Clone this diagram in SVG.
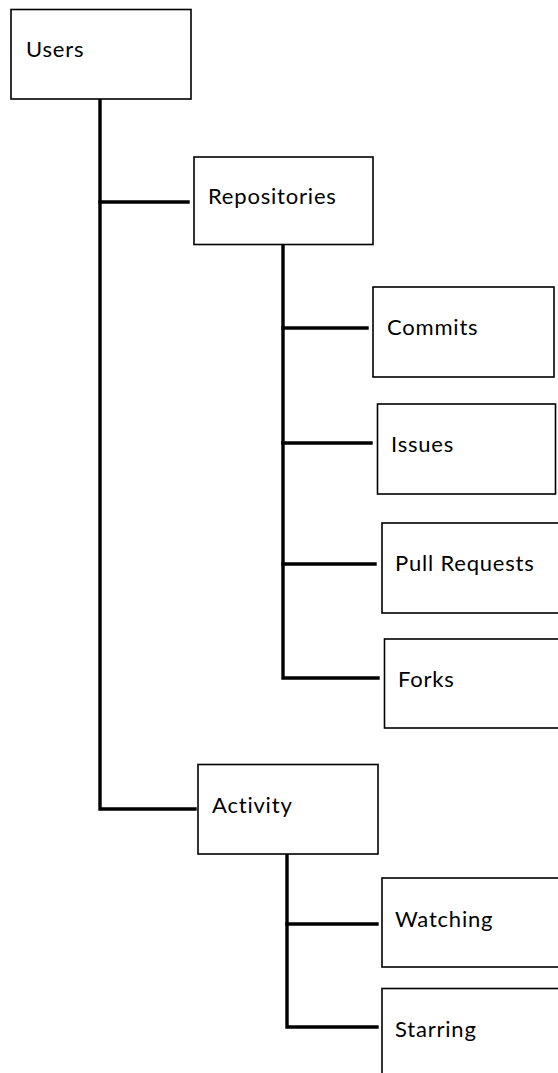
<svg xmlns="http://www.w3.org/2000/svg" width="558" height="1073" viewBox="0 0 558 1073">
  <style>
    .box { fill: #ffffff; stroke: #000000; stroke-width: 1.6; }
    .lbl { font-family: Lato, "Open Sans", sans-serif; font-size: 22px; letter-spacing: 0.8px; fill: #000000; }
    .wire { fill: none; stroke: #000000; stroke-width: 3.4; stroke-linecap: square; stroke-linejoin: miter; }
  </style>
  <rect width="558" height="1073" fill="#ffffff"/>

  <!-- tree connectors -->
  <g id="connectors">
    <!-- Users trunk -->
    <path class="wire" d="M100 100 V809 H195"/>
    <path class="wire" d="M100 202 H188"/>
    <!-- Repositories trunk -->
    <path class="wire" d="M283 245 V678 H378"/>
    <path class="wire" d="M283 328 H367"/>
    <path class="wire" d="M283 443 H371"/>
    <path class="wire" d="M283 564 H375"/>
    <!-- Activity trunk -->
    <path class="wire" d="M287 855 V1027 H377"/>
    <path class="wire" d="M287 924 H377"/>
  </g>

  <g id="users">
    <rect class="box" x="11" y="9.5" width="180" height="89.5"/>
    <text class="lbl" x="26" y="57">Users</text>
  </g>
  <g id="repositories">
    <rect class="box" x="194" y="157" width="179" height="87.5"/>
    <text class="lbl" x="208" y="204">Repositories</text>
  </g>
  <g id="commits">
    <rect class="box" x="373" y="287" width="181" height="90"/>
    <text class="lbl" x="387" y="335">Commits</text>
  </g>
  <g id="issues">
    <rect class="box" x="377.5" y="404" width="178" height="90"/>
    <text class="lbl" x="391" y="452">Issues</text>
  </g>
  <g id="pull-requests">
    <rect class="box" x="382" y="523" width="190" height="90"/>
    <text class="lbl" x="395" y="571">Pull Requests</text>
  </g>
  <g id="forks">
    <rect class="box" x="384.5" y="639" width="190" height="89"/>
    <text class="lbl" x="398" y="687">Forks</text>
  </g>
  <g id="activity">
    <rect class="box" x="198" y="764.5" width="180" height="89.5"/>
    <text class="lbl" x="212" y="813">Activity</text>
  </g>
  <g id="watching">
    <rect class="box" x="382" y="878" width="190" height="89"/>
    <text class="lbl" x="395" y="927">Watching</text>
  </g>
  <g id="starring">
    <rect class="box" x="382" y="988.5" width="190" height="100"/>
    <text class="lbl" x="395" y="1037">Starring</text>
  </g>
</svg>
